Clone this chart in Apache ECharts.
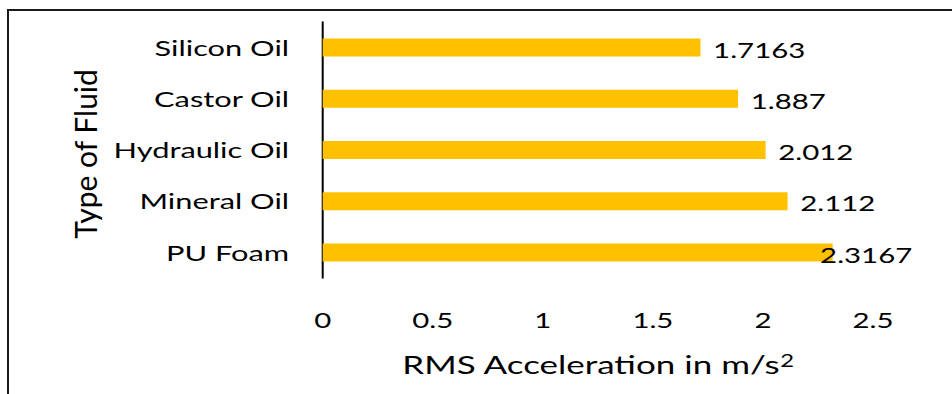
<!DOCTYPE html>
<html>
<head>
<meta charset="utf-8">
<script src="https://cdn.jsdelivr.net/npm/echarts@6/dist/echarts.min.js"></script>
<style>
  html, body { margin: 0; padding: 0; background: #fff; overflow: hidden; }
  /* the chart is laid out narrow and widened horizontally as a whole */
  #wrap { width: 952px; height: 394px; overflow: hidden; }
  #chart { width: 680px; height: 394px; transform: scaleX(1.4); transform-origin: 0 0; }
</style>
</head>
<body>
<div id="wrap"><div id="chart"></div></div>
<script>
// Fluid types, listed bottom to top on the category axis
const fluids = ['PU Foam', 'Mineral Oil', 'Hydraulic Oil', 'Castor Oil', 'Silicon Oil'];
// RMS acceleration (m/s^2) for each fluid
const rmsValues = [2.3167, 2.112, 2.012, 1.887, 1.7163];
// Value-axis ticks
const xTicks = [0, 0.5, 1, 1.5, 2, 2.5];

const SX = 1.4;          // horizontal widening applied to the whole chart
const FONT = 'Lato';
const chart = echarts.init(document.getElementById('chart'), null, { renderer: 'svg' });

const barData = rmsValues.map((v) => {
  const item = { value: v };
  // the largest bar's label sits slightly over the bar end
  if (v === Math.max(...rmsValues)) {
    item.label = { offset: [-18, 2] };
  }
  return item;
});

chart.setOption({
  animation: false,
  backgroundColor: '#ffffff',
  grid: { left: 230.5, right: 56.4, top: 22, bottom: 116, containLabel: false },
  xAxis: {
    type: 'value',
    min: xTicks[0],
    max: xTicks[xTicks.length - 1],
    interval: xTicks[1] - xTicks[0],
    axisLine: { show: false },
    axisTick: { show: false },
    splitLine: { show: false },
    axisLabel: { color: '#000', fontFamily: FONT, fontSize: 21, margin: 31 },
    name: 'RMS Acceleration in m/s{sup|2}',
    nameLocation: 'middle',
    nameGap: 74,
    nameTextStyle: {
      color: '#000', fontFamily: FONT, fontSize: 25,
      rich: { sup: { fontSize: 17, verticalAlign: 'top', fontFamily: FONT, color: '#000' } }
    }
  },
  yAxis: {
    type: 'category',
    data: fluids,
    axisLine: { show: true, lineStyle: { color: '#000', width: 2 / SX } },
    axisTick: { show: false },
    splitLine: { show: false },
    axisLabel: { color: '#000', fontFamily: FONT, fontSize: 22, margin: 24 }
  },
  series: [{
    type: 'bar',
    data: barData,
    barWidth: 18,
    itemStyle: { color: '#FFC000' },
    label: {
      show: true,
      position: 'right',
      distance: 9,
      offset: [0, 2],
      color: '#000',
      fontFamily: FONT,
      fontSize: 21
    }
  }],
  graphic: [
    {
      // vertical axis title, kept at natural proportions
      type: 'text',
      x: 85 / SX,
      y: 154,
      rotation: Math.PI / 2,
      scaleY: 1 / SX,
      style: {
        text: 'Type of Fluid',
        fill: '#000',
        fontFamily: FONT,
        fontSize: 30,
        align: 'center',
        verticalAlign: 'middle'
      },
      silent: true
    },
    {
      type: 'line',
      shape: { x1: 8 / SX, y1: 9, x2: 8 / SX, y2: 394 },
      style: { stroke: '#1a1a1a', lineWidth: 2 / SX },
      silent: true
    },
    {
      type: 'line',
      shape: { x1: 7 / SX, y1: 10, x2: 680, y2: 10 },
      style: { stroke: '#1a1a1a', lineWidth: 2 },
      silent: true
    }
  ]
});
</script>
</body>
</html>
